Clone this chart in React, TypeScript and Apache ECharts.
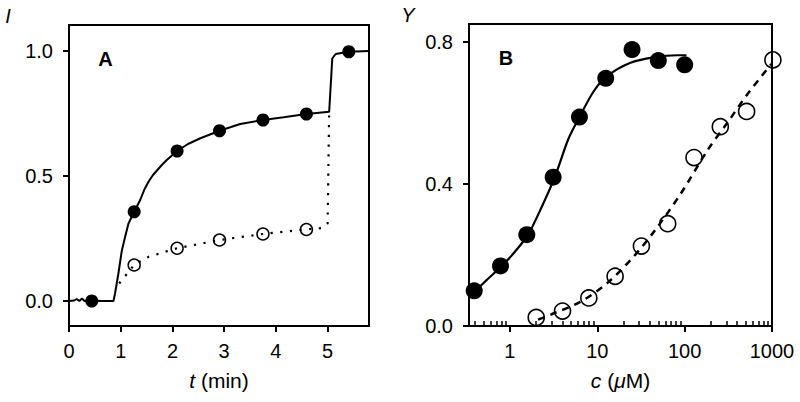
import React, { useEffect, useRef } from 'react';
import * as echarts from 'echarts';

// ---------- Panel A data ----------
const ticksAx = [0, 1, 2, 3, 4, 5];
const ticksAy = [0, 0.5, 1.0];
const traceA: number[][] = [
  [0, 0], [0.1, 0.002], [0.15, 0.008], [0.2, 0.0], [0.25, 0.01], [0.3, 0.0], [0.45, 0.003],
  [0.6, 0.0], [0.86, 0.0], [0.89, 0.03], [0.955, 0.11], [1.02, 0.2], [1.085, 0.257],
  [1.15, 0.31], [1.26, 0.357], [1.376, 0.404], [1.46, 0.447], [1.54, 0.478], [1.62, 0.503],
  [1.7, 0.522], [1.79, 0.543], [1.89, 0.564], [2.09, 0.6], [2.3, 0.628], [2.54, 0.651],
  [2.91, 0.681], [3.31, 0.708], [3.75, 0.724], [4.15, 0.735], [4.59, 0.748], [5.03, 0.757],
  [5.09, 0.97], [5.155, 0.988], [5.41, 0.997], [5.8, 1.0],
];
const filledA: number[][] = [
  [0.44, 0], [1.26, 0.357], [2.09, 0.6], [2.91, 0.681], [3.75, 0.724], [4.59, 0.748], [5.41, 0.997],
];
const dottedA: number[][] = [
  [0.97, 0.07], [1.26, 0.144], [1.54, 0.177], [2.09, 0.211], [2.91, 0.244], [3.75, 0.268],
  [4.59, 0.287], [4.9, 0.292], [5.0, 0.31], [5.03, 0.757],
];
const openA: number[][] = [
  [1.26, 0.144], [2.09, 0.211], [2.91, 0.244], [3.75, 0.268], [4.59, 0.286],
];

// ---------- Panel B data ----------
const ticksBx = [1, 10, 100, 1000];
const minorBx = [
  0.4, 0.5, 0.6, 0.7, 0.8, 0.9,
  2, 3, 4, 5, 6, 7, 8, 9,
  20, 30, 40, 50, 60, 70, 80, 90,
  200, 300, 400, 500, 600, 700, 800, 900,
];
const ticksBy = [0, 0.4, 0.8];
const curveB: number[][] = [
  [0.34, 0.093], [0.4, 0.1], [0.54, 0.129], [0.8, 0.168], [1.14, 0.209], [1.62, 0.258],
  [2.31, 0.335], [3.26, 0.419], [4.68, 0.527], [6.38, 0.592], [9.07, 0.66], [12.9, 0.703],
  [24, 0.741], [44.4, 0.756], [82.4, 0.762], [105, 0.762],
];
const filledB: number[][] = [
  [0.39, 0.099], [0.78, 0.169], [1.56, 0.257], [3.125, 0.419], [6.25, 0.588], [12.5, 0.697],
  [25, 0.778], [50, 0.747], [100, 0.735],
];
const dashedB: number[][] = [
  [2.1, 0.018], [3, 0.033], [6.4, 0.068], [12.9, 0.12], [26, 0.195], [46, 0.27], [90, 0.372],
  [182, 0.494], [310, 0.573], [525, 0.653], [980, 0.737],
];
const openB: number[][] = [
  [2, 0.024], [4, 0.042], [8, 0.079], [16, 0.14], [32, 0.225], [64, 0.288], [128, 0.474],
  [256, 0.561], [512, 0.604], [1024, 0.749],
];

const FONT = '"Liberation Sans", Arial, Helvetica, sans-serif';
const BLACK = '#000';

const axisLineStyle = { show: true, onZero: false, lineStyle: { color: BLACK, width: 2 } };
const labelStyle = { color: BLACK, fontSize: 20, fontFamily: FONT };
const nameStyle = {
  color: BLACK, fontSize: 21, fontFamily: FONT,
  rich: {
    i: { fontStyle: 'italic', fontSize: 21, fontFamily: FONT, color: BLACK },
    n: { fontSize: 21, fontFamily: FONT, color: BLACK },
  },
};

export default function App() {
  const ref = useRef<HTMLDivElement>(null);
  useEffect(() => {
    if (!ref.current) return;
    const chart = echarts.init(ref.current, null, { renderer: 'svg' });
    const option: any = {
      animation: false,
      backgroundColor: '#fff',
      textStyle: { fontFamily: FONT },
      grid: [
        { left: 69, top: 25, width: 300, height: 301, show: true, borderColor: BLACK, borderWidth: 2, backgroundColor: 'transparent', outerBoundsMode: 'none', containLabel: false },
        { left: 469, top: 24, width: 303, height: 302, show: true, borderColor: BLACK, borderWidth: 2, backgroundColor: 'transparent', outerBoundsMode: 'none', containLabel: false },
      ],
      xAxis: [
        {
          type: 'value', gridIndex: 0, min: 0, max: 5.8,
          axisLine: axisLineStyle,
          axisTick: { show: true, customValues: ticksAx, length: 6, lineStyle: { color: BLACK, width: 2 } },
          axisLabel: { ...labelStyle, customValues: ticksAx, margin: 15, formatter: (v: number) => String(v) },
          splitLine: { show: false },
          name: '{i|t} (min)', nameLocation: 'middle', nameGap: 44,
          nameTextStyle: nameStyle,
        },
        {
          type: 'log', logBase: 10, gridIndex: 1, min: 0.34, max: 1000,
          axisLine: axisLineStyle,
          axisTick: { show: true, customValues: ticksBx, length: 6, lineStyle: { color: BLACK, width: 2 } },
          axisLabel: { ...labelStyle, customValues: ticksBx, margin: 15, formatter: (v: number) => String(v) },
          splitLine: { show: false },
          minorTick: { show: false },
          name: '{i|c} ({i|\u03bc}M)', nameLocation: 'middle', nameGap: 44,
          nameTextStyle: nameStyle,
        },
        {
          type: 'log', logBase: 10, gridIndex: 1, min: 0.34, max: 1000,
          axisLine: { show: false },
          axisTick: { show: true, customValues: minorBx, length: 5, lineStyle: { color: BLACK, width: 1.5 } },
          axisLabel: { show: false },
          splitLine: { show: false },
        },
      ],
      yAxis: [
        {
          type: 'value', gridIndex: 0, min: -0.1, max: 1.104,
          axisLine: axisLineStyle,
          axisTick: { show: true, customValues: ticksAy, length: 6, lineStyle: { color: BLACK, width: 2 } },
          axisLabel: { ...labelStyle, customValues: ticksAy, margin: 16, formatter: (v: number) => v.toFixed(1) },
          splitLine: { show: false },
        },
        {
          type: 'value', gridIndex: 1, min: 0, max: 0.85,
          axisLine: axisLineStyle,
          axisTick: { show: true, customValues: ticksBy, length: 6, lineStyle: { color: BLACK, width: 2 } },
          axisLabel: { ...labelStyle, customValues: ticksBy, margin: 16, formatter: (v: number) => v.toFixed(1) },
          splitLine: { show: false },
        },
      ],
      graphic: [
        { type: 'text', x: 8, y: 16, style: { text: 'I', font: `italic 20px ${FONT}`, fill: BLACK, align: 'center', verticalAlign: 'middle' } },
        { type: 'text', x: 408, y: 15, style: { text: 'Y', font: `italic 20px ${FONT}`, fill: BLACK, align: 'center', verticalAlign: 'middle' } },
        { type: 'text', x: 105.5, y: 59, style: { text: 'A', font: `bold 20px ${FONT}`, fill: BLACK, align: 'center', verticalAlign: 'middle' } },
        { type: 'text', x: 506, y: 58, style: { text: 'B', font: `bold 20px ${FONT}`, fill: BLACK, align: 'center', verticalAlign: 'middle' } },
      ],
      series: [
        {
          type: 'line', xAxisIndex: 0, yAxisIndex: 0, data: traceA, showSymbol: false, symbol: 'none',
          lineStyle: { color: BLACK, width: 2 }, z: 2, clip: false,
        },
        {
          type: 'line', xAxisIndex: 0, yAxisIndex: 0, data: dottedA, showSymbol: false, symbol: 'none',
          lineStyle: { color: BLACK, width: 2.2, type: [2.2, 7.5] }, z: 2,
        },
        {
          type: 'scatter', xAxisIndex: 0, yAxisIndex: 0, data: filledA, symbol: 'circle', symbolSize: 13,
          itemStyle: { color: BLACK, opacity: 1 }, z: 3, clip: false,
        },
        {
          type: 'scatter', xAxisIndex: 0, yAxisIndex: 0, data: openA, symbol: 'circle', symbolSize: 12,
          itemStyle: { color: 'transparent', borderColor: BLACK, borderWidth: 1.5, opacity: 1 }, z: 3,
        },
        {
          type: 'line', xAxisIndex: 1, yAxisIndex: 1, data: curveB, showSymbol: false, symbol: 'none', smooth: 0.3,
          lineStyle: { color: BLACK, width: 2.2 }, z: 2,
        },
        {
          type: 'line', xAxisIndex: 1, yAxisIndex: 1, data: dashedB, showSymbol: false, symbol: 'none', smooth: 0.3,
          lineStyle: { color: BLACK, width: 2.5, type: [7, 6] }, z: 2,
        },
        {
          type: 'scatter', xAxisIndex: 1, yAxisIndex: 1, data: filledB, symbol: 'circle', symbolSize: 17,
          itemStyle: { color: BLACK, opacity: 1 }, z: 3, clip: false,
        },
        {
          type: 'scatter', xAxisIndex: 1, yAxisIndex: 1, data: openB, symbol: 'circle', symbolSize: 16,
          itemStyle: { color: 'transparent', borderColor: BLACK, borderWidth: 1.6, opacity: 1 }, z: 3, clip: false,
        },
      ],
    };
    chart.setOption(option);
    return () => chart.dispose();
  }, []);
  return (
    <div
      ref={ref}
      style={{ position: 'fixed', left: 0, top: 0, width: 800, height: 402, background: '#fff' }}
    />
  );
}
